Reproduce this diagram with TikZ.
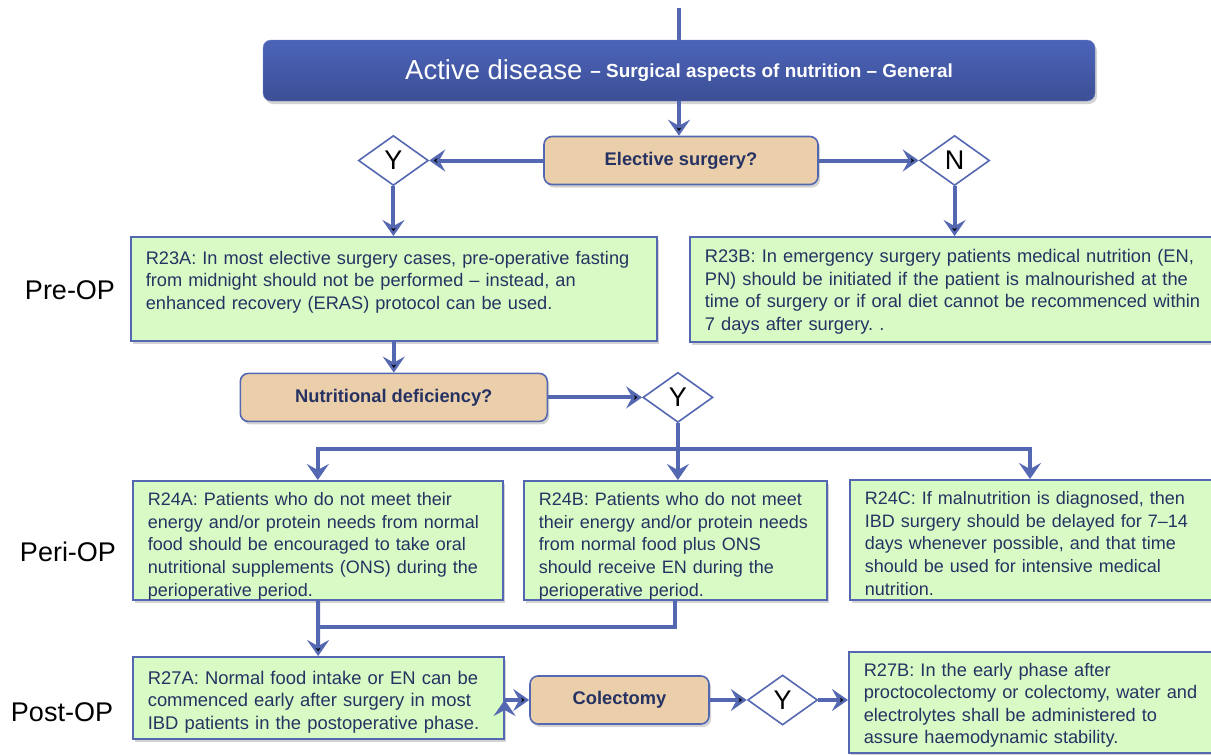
\documentclass[tikz,border=0pt]{standalone}
\usepackage{fontspec}
\setmainfont{Liberation Sans}
\usetikzlibrary{arrows.meta,positioning,shapes.geometric,shadows}
\frenchspacing

\definecolor{linkblue}{RGB}{84,104,178}
\definecolor{recgreen}{RGB}{216,251,198}
\definecolor{asktan}{RGB}{235,206,170}
\definecolor{txtnavy}{RGB}{38,50,98}
\definecolor{bartop}{RGB}{76,100,184}
\definecolor{barbot}{RGB}{60,79,150}

\tikzset{
  line/.style={draw=linkblue, line width=4pt},
  flow/.style={line, -{Stealth[length=16pt,width=22pt,inset=6pt]}},
  shade/.style={drop shadow={shadow xshift=2pt,shadow yshift=-3pt,opacity=.35}},
  rec/.style={draw=linkblue, fill=recgreen, line width=1.6pt, text=txtnavy, align=left,
    anchor=north west, inner xsep=15pt, inner ysep=8pt, shade,
    font=\fontsize{18}{22.75}\selectfont},
  ask/.style={draw=linkblue, fill=asktan, line width=1.6pt, rounded corners=8pt, shade,
    text=txtnavy, minimum height=48pt, font=\fontsize{18.3}{20}\selectfont\bfseries},
  yn/.style={diamond, draw=linkblue, fill=white, line width=1.6pt, inner sep=0pt,
    minimum width=70pt, minimum height=50pt, font=\fontsize{27}{27}\selectfont},
  phase/.style={font=\fontsize{27}{30}\selectfont}
}

\begin{document}
\begin{tikzpicture}[x=1pt,y=-1pt]
  \clip (0,0) rectangle (1211,755);
  \coordinate (in) at (679,8);
  \draw[line] (in) -- (679,50);
  \node[shade, rounded corners=8pt, top color=bartop, bottom color=barbot, draw=bartop!80,
        minimum width=832pt, minimum height=61pt, text=white] (bar) at (679,70.5)
        {\raisebox{-2pt}{\fontsize{27.5}{30}\selectfont Active disease}\hspace{8pt}{\fontsize{18.9}{20}\selectfont\bfseries – Surgical aspects of nutrition – General}};

  \node[ask, minimum width=274pt] (elect) at (681,160.5) {Elective surgery?};
  \node[yn] (yes1) [left=114pt of elect]  {Y};
  \node[yn] (no1)  [right=100pt of elect] {N};

  \node[phase] (pre) at (70,290) {Pre-OP};
  \node[rec, text width=496pt, text height=19.5pt, text depth=68.5pt,
        font=\fontsize{18.2}{22.5}\selectfont] (r23a) at (130,236)
    {R23A: In most elective surgery cases, pre-operative fasting\\
     from midnight should not be performed – instead, an\\
     enhanced recovery (ERAS) protocol can be used.};
  \node[rec, text width=530pt, text height=17.5pt, text depth=71.5pt,
        font=\fontsize{18.3}{22.75}\selectfont] (r23b) at (689,236)
    {R23B: In emergency surgery patients medical nutrition (EN,\\
     PN) should be initiated if the patient is malnourished at the\\
     time of surgery or if oral diet cannot be recommenced within\\
     7 days after surgery. .};

  \node[ask, minimum width=307pt] (nutr) [below=31pt of r23a] {Nutritional deficiency?};
  \node[yn] (yes2) [right=94pt of nutr] {Y};

  \node[phase] (peri) at (68,552) {Peri-OP};
  \node[rec, text width=340pt, text height=16.5pt, text depth=86.5pt] (r24a) at (132,480)
    {R24A: Patients who do not meet their\\
     energy and/or protein needs from normal\\
     food should be encouraged to take oral\\
     nutritional supplements (ONS) during the\\
     perioperative period.};
  \node[rec, text width=273pt, text height=16.5pt, text depth=86.5pt] (r24b) at (523,480)
    {R24B: Patients who do not meet\\
     their energy and/or protein needs\\
     from normal food plus ONS\\
     should receive EN during the\\
     perioperative period.};
  \node[rec, text width=343pt, text height=16.5pt, text depth=87.5pt] (r24c) at (849,479)
    {R24C: If malnutrition is diagnosed, then\\
     IBD surgery should be delayed for 7–14\\
     days whenever possible, and that time\\
     should be used for intensive medical\\
     nutrition.};

  \node[phase] (post) at (62,712) {Post-OP};
  \node[rec, text width=341pt, text height=19.5pt, text depth=46.5pt,
        font=\fontsize{18.4}{22.5}\selectfont] (r27a) at (132,656)
    {R27A: Normal food intake or EN can be\\
     commenced early after surgery in most\\
     IBD patients in the postoperative phase.};
  \node[ask, minimum width=179pt] (colec) at (619.5,700) {Colectomy};
  \node[yn] (yes3) [right=37pt of colec] {Y};
  \node[rec, text width=344pt, text height=16.5pt, text depth=68.5pt,
        font=\fontsize{18.2}{22.5}\selectfont] (r27b) at (848,651)
    {R27B: In the early phase after\\
     proctocolectomy or colectomy, water and\\
     electrolytes shall be administered to\\
     assure haemodynamic stability.};

  \path[flow]
     (bar.south) edge (bar.south |- elect.north)
     (elect) edge (yes1)
     (elect) edge (no1)
     (yes1) edge (yes1 |- r23a.north)
     (no1) edge (no1 |- r23b.north)
     (r23a.south -| nutr) edge (nutr)
     (nutr) edge (yes2)
     (r24a) edge (r27a)
     (r27a.east |- colec) edge (colec)
     (colec) edge (yes3)
     (yes3) edge (yes3 -| r27b.west);

  \coordinate (split) at (yes2.south |- 0,449);
  \draw[line] (yes2.south) -- (split);
  \draw[flow] (split) -| (r24a.north);
  \draw[flow] (split) -- (split |- r24b.north);
  \draw[flow] (split) -| (1030,479);
  \draw[line] (r24b.south) |- (r24a.south |- 0,627);
\end{tikzpicture}
\end{document}
